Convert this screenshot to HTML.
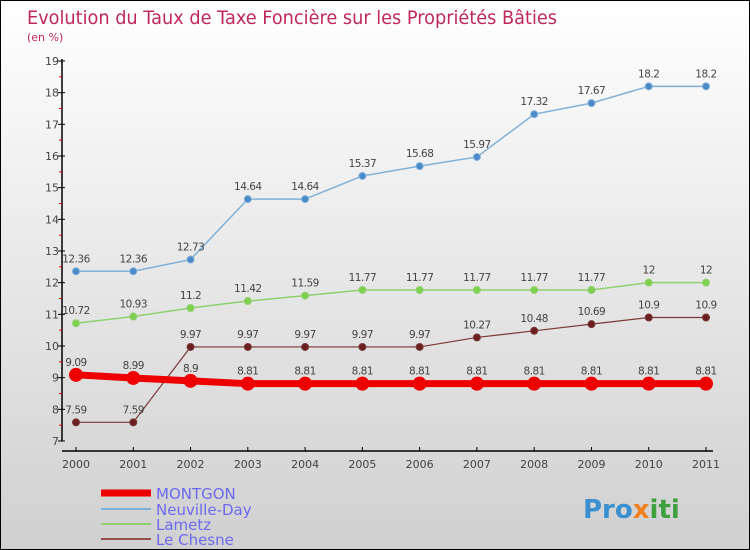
<!DOCTYPE html>
<html><head><meta charset="utf-8"><style>
body{margin:0;}
#wrap{position:relative;width:748px;height:548px;border:1px solid #000;background:linear-gradient(#fff,#d0d0d0);font-family:"DejaVu Sans","Liberation Sans",sans-serif;overflow:hidden}
svg text{font-family:"DejaVu Sans","Liberation Sans",sans-serif}
</style></head><body>
<div id="wrap">
<svg id="s" width="748" height="548">
<text x="26" y="23" font-size="19" fill="#c0285a" textLength="530" lengthAdjust="spacingAndGlyphs">Evolution du Taux de Taxe Foncière sur les Propriétés Bâties</text>
<text x="26" y="40" font-size="11" fill="#c0285a">(en %)</text>
<g id="axes"></g><g id="series"></g>
<g>
<line x1="100" y1="492" x2="150" y2="492" stroke="#e00" stroke-width="7"/>
<text x="155" y="498" font-size="15" fill="#6a6aee">MONTGON</text>
<line x1="100" y1="508" x2="150" y2="508" stroke="#7fb0d8" stroke-width="2"/>
<text x="155" y="514" font-size="15" fill="#6a6aee">Neuville-Day</text>
<line x1="100" y1="523" x2="150" y2="523" stroke="#90d070" stroke-width="2"/>
<text x="155" y="529" font-size="15" fill="#6a6aee">Lametz</text>
<line x1="100" y1="538" x2="150" y2="538" stroke="#905050" stroke-width="2"/>
<text x="155" y="544" font-size="15" fill="#6a6aee">Le Chesne</text>
</g>
<text x="582" y="517" font-size="26" font-weight="bold" fill="#3a8fd0">Pro<tspan fill="#f08020">x</tspan><tspan fill="#40a040">iti</tspan></text>
</svg></div>
<script>
const years=["2000","2001","2002","2003","2004","2005","2006","2007","2008","2009","2010","2011"];
const yTicks=[7,8,9,10,11,12,13,14,15,16,17,18,19];
const montgon=[9.09,8.99,8.9,8.81,8.81,8.81,8.81,8.81,8.81,8.81,8.81,8.81];
const neuville=[12.36,12.36,12.73,14.64,14.64,15.37,15.68,15.97,17.32,17.67,18.2,18.2];
const lametz=[10.72,10.93,11.2,11.42,11.59,11.77,11.77,11.77,11.77,11.77,12,12];
const chesne=[7.59,7.59,9.97,9.97,9.97,9.97,9.97,10.27,10.48,10.69,10.9,10.9];
const NS="http://www.w3.org/2000/svg";
const X=i=>75+i*(630/11), Y=v=>440-(v-7)*(380/12);
function mk(t,a,p){const e=document.createElementNS(NS,t);for(const k in a)e.setAttribute(k,a[k]);p.appendChild(e);return e;}
const ax=document.getElementById('axes');
let yl=mk('line',{x1:61,y1:58,x2:61,y2:440,stroke:'#000','stroke-width':1.5},ax);

yTicks.forEach(v=>{mk('line',{x1:57,x2:64,y1:Y(v),y2:Y(v),stroke:'#000'},ax);
 if(v<19)mk('line',{x1:58,x2:61,y1:Y(v+0.5),y2:Y(v+0.5),stroke:'#e00'},ax);
 const t=mk('text',{x:58,y:Y(v)+4,'font-size':11,fill:'#444','text-anchor':'end'},ax);t.textContent=v;
 });
let xl=mk('line',{x1:61,y1:450,x2:712,y2:450,stroke:'#000','stroke-width':1.5},ax);

years.forEach((y,i)=>{mk('line',{x1:X(i),x2:X(i),y1:446,y2:450,stroke:'#000'},ax);
 const t=mk('text',{x:X(i),y:467,'font-size':11,fill:'#444','text-anchor':'middle'},ax);t.textContent=y;
 });
const sg=document.getElementById('series');
function series(d,name,col,w,r,fill){
 const g=mk('g',{},sg);
 const l=mk('polyline',{points:d.map((v,i)=>X(i)+','+Y(v)).join(' '),fill:'none',stroke:col,'stroke-width':w},g);
 
 d.forEach((v,i)=>{const c=mk('circle',{cx:X(i),cy:Y(v),r:r,fill:fill,stroke:col,'stroke-width':1},g);
  
  const t=mk('text',{x:X(i),y:Y(v)-9,'font-size':10.5,fill:'#444','text-anchor':'middle','letter-spacing':'-0.5'},g);t.textContent=v;
  });
}
series(chesne,'le-chesne','#7a3838',1.2,3.5,'#6a2020');
series(lametz,'lametz','#90d070',1.5,3.5,'#80d050');
series(neuville,'neuville-day','#80b0d8',1.5,3.5,'#4a8ac8');
series(montgon,'montgon','#e00',7,6.5,'#e00');
</script>
</body></html>
